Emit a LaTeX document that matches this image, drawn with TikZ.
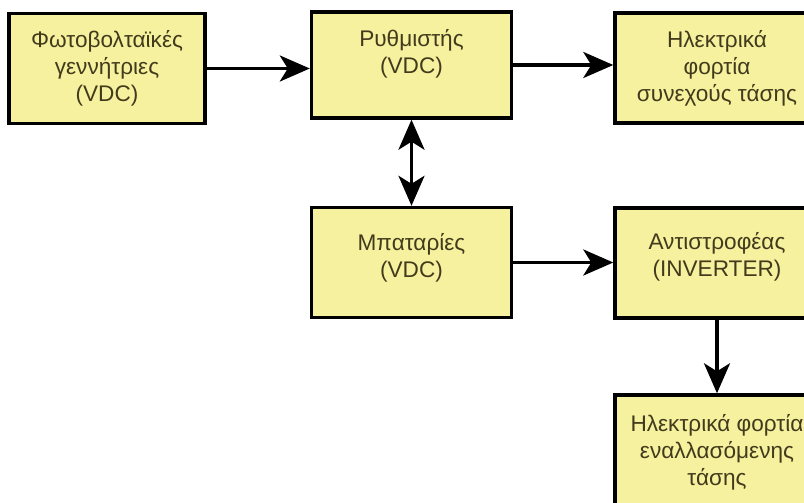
\documentclass[tikz,border=0pt]{standalone}
\usepackage{fontspec}
\setmainfont{Liberation Sans}
\usetikzlibrary{positioning, arrows.meta}

\definecolor{boxyellow}{RGB}{246,241,158}
\definecolor{boxtext}{RGB}{66,58,28}

\begin{document}
\begin{tikzpicture}[
          x=0.5pt, y=-0.5pt,
          % Base node style
          box/.style={rectangle, draw=black, line width=1.7pt, fill=boxyellow, text=boxtext, align=center,
                      minimum width=100pt, minimum height=55pt, inner sep=2pt,
                      font=\fontsize{11.3}{13.5}\selectfont},
          % Arrow styles
          flowarrow/.style={-{Stealth[length=15pt, width=13pt, inset=4pt]}, line width=1.7pt},
          dblarrow/.style={{Stealth[length=15pt, width=13pt, inset=4pt]}-{Stealth[length=15pt, width=13pt, inset=4pt]}, line width=1.7pt}
        ]
          \useasboundingbox (0,0) rectangle (804,503);
          \clip (0,0) rectangle (804,503);
          \fill[white] (0,0) rectangle (804,503);

          % ==========================================
          % 1. Top row: generation, regulation, DC loads
          % ==========================================
          \node[box, minimum width=98pt] (pv_gen) at (107,68.5) {Φωτοβολταϊκές\\γεννήτριες\\(VDC)};
          \node[box, minimum height=53pt, text depth=14pt] (regulator) at (411.5,65) {Ρυθμιστής\\(VDC)};
          \node[box, minimum width=102pt] (dc_loads) at (717,68) {Ηλεκτρικά\\φορτία\\συνεχούς τάσης};

          % ==========================================
          % 2. Middle row: batteries and inverter
          % ==========================================
          \node[box, text depth=7.4pt] (batteries) at (411.5,262.5) {Μπαταρίες\\(VDC)};
          \node[box, minimum width=102pt, text depth=9pt] (inverter) at (717,263) {Αντιστροφέας\\(INVERTER)};

          % ==========================================
          % 3. Bottom row: AC loads
          % ==========================================
          \node[box, minimum width=102pt, minimum height=57pt] (ac_loads) at (717,452) {Ηλεκτρικά φορτία\\εναλλασόμενης\\τάσης};

          % ==========================================
          % 4. Edges
          % ==========================================
          \draw[flowarrow] (pv_gen.east) -- (pv_gen.east -| regulator.west);
          \draw[flowarrow] (regulator.east) -- (regulator.east -| dc_loads.west);
          \draw[dblarrow] (regulator) -- (batteries);
          \draw[flowarrow] (batteries.east) -- (batteries.east -| inverter.west);
          \draw[flowarrow] (inverter) -- (ac_loads);
        \end{tikzpicture}
\end{document}
